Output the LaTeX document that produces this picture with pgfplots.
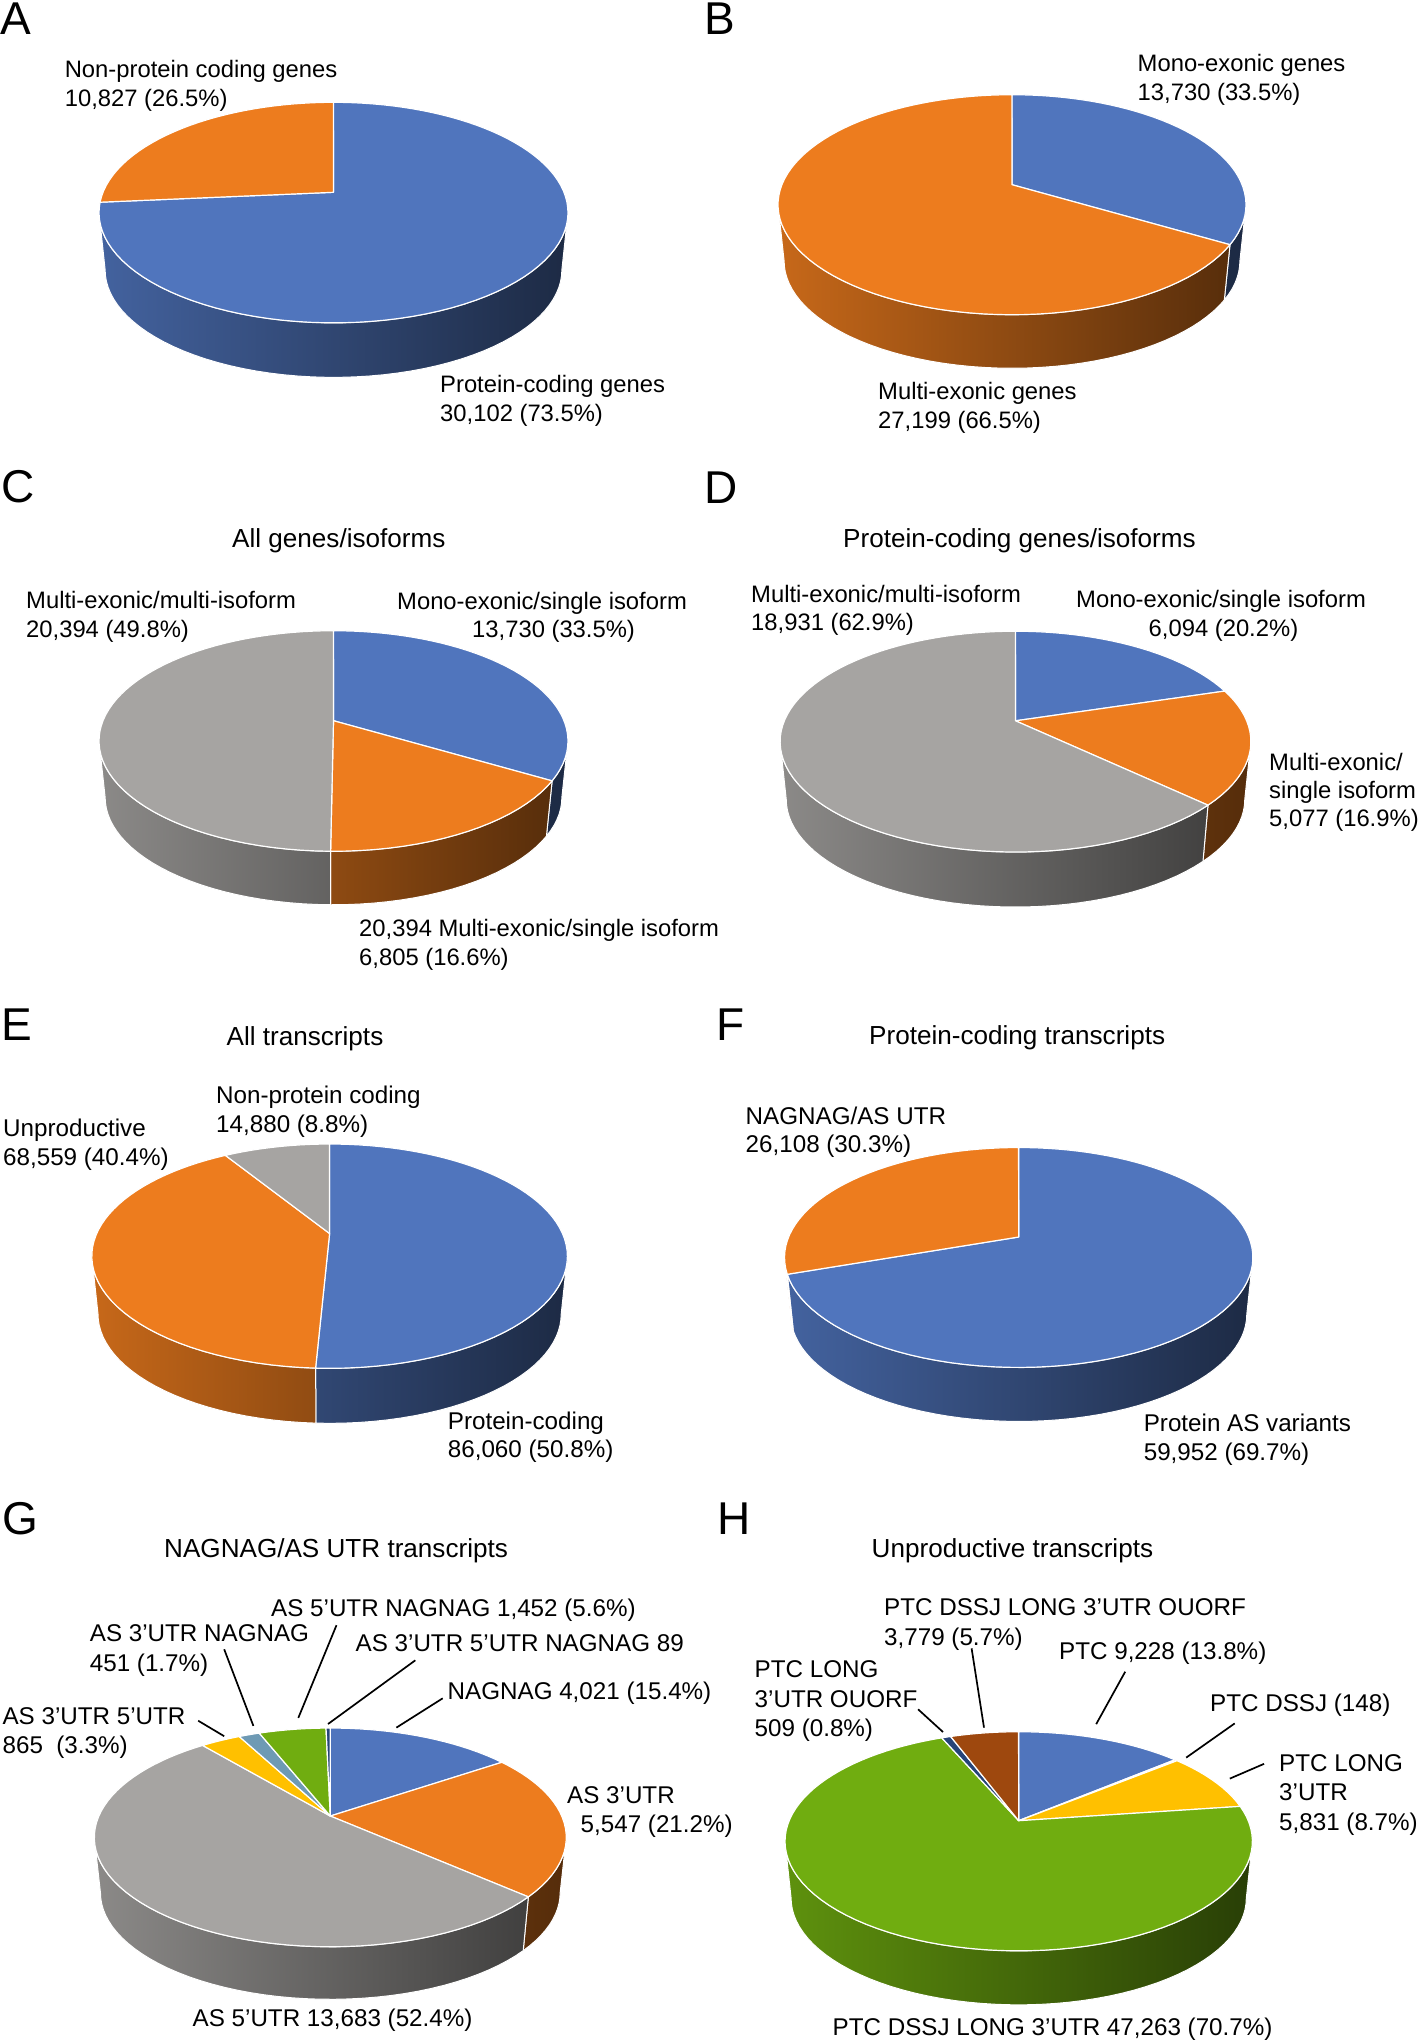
\documentclass[border=0pt]{standalone}
\usepackage{fontspec}
\setmainfont{Liberation Sans}
\usepackage{pgfplots}
\usepackage{pgfplotstable}
\pgfplotsset{compat=1.18}
\definecolor{pblue}{HTML}{5075BD}
\definecolor{porange}{HTML}{ED7C1E}
\definecolor{pgrey}{HTML}{A6A4A2}
\definecolor{pyellow}{HTML}{FFC000}
\definecolor{pteal}{HTML}{6E9AB4}
\definecolor{pgreen}{HTML}{70AD10}
\definecolor{pnavy}{HTML}{264478}
\definecolor{pbrown}{HTML}{9E480E}

\pgfplotstableread{
v c
30102 pblue
10827 porange
}\tblA
\pgfplotstableread{
v c
13730 pblue
27199 porange
}\tblB
\pgfplotstableread{
v c
13730 pblue
6805 porange
20394 pgrey
}\tblC
\pgfplotstableread{
v c
6094 pblue
5077 porange
18931 pgrey
}\tblD
\pgfplotstableread{
v c
86060 pblue
68559 porange
14880 pgrey
}\tblE
\pgfplotstableread{
v c
59952 pblue
26108 porange
}\tblF
\pgfplotstableread{
v c
4021 pblue
5547 porange
13683 pgrey
865 pyellow
451 pteal
1452 pgreen
89 pnavy
}\tblG
\pgfplotstableread{
v c
9228 pblue
148 porange
5831 pyellow
47263 pgreen
509 pnavy
3779 pbrown
}\tblH

\newcount\arccnt
% arc of the projected circle, from angle #1 to #2; #3=0 top rim, 1 lower rim
\newcommand\AppendArc[3]{%
  \pgfmathtruncatemacro\Nseg{max(1,ceil(abs(#2-(#1))/3))}%
  \arccnt=0
  \loop
    \pgfmathsetmacro\tval{#1+(#2-(#1))*(\the\arccnt/\Nseg)}%
    \pgfmathsetmacro\pieD{1+\pieK*sin(\tval)}%
    \pgfmathsetmacro\XX{\pieA*cos(\tval)/\pieD}%
    \pgfmathsetmacro\YY{\pieB*sin(\tval)/\pieD}%
    \ifnum#3=0
      \pgfmathsetmacro\ptx{\pcx+\XX}%
      \pgfmathsetmacro\pty{\pcy-\YY}%
    \else
      \pgfmathsetmacro\ptx{\pcx+0.974*\XX}%
      \pgfmathsetmacro\pty{\pcyb-0.974*\YY}%
    \fi
    \xdef\coordlist{\coordlist (\ptx,\pty)}%
    \advance\arccnt by 1
  \ifnum\arccnt<\numexpr\Nseg+1\relax
  \repeat
}
% #1 table, #2 cx, #3 cy (apex), #4 up, #5 down, #6 rx, #7 depth
\newcommand\DrawPie[7]{%
  \def\pcx{#2}\def\pcy{#3}\def\prx{#6}%
  \pgfmathsetmacro\pieB{2/(1/#4+1/#5)}%
  \pgfmathsetmacro\pieK{\pieB/#4-1}%
  \pgfmathsetmacro\pieA{#6*sqrt(1-\pieK*\pieK)}%
  \pgfmathsetmacro\pcyb{#3+#5+#7-0.974*#5}%
  \pgfmathsetmacro\tvis{asin(\pieK)}%
  \pgfmathsetmacro\visL{-180+\tvis}%
  \pgfmathsetmacro\visR{-\tvis}%
  \pgfplotstablegetrowsof{#1}%
  \pgfmathtruncatemacro\lastrow{\pgfplotsretval-1}%
  \gdef\pieTotal{0}%
  \pgfplotsforeachungrouped \r in {0,...,\lastrow}{%
    \pgfplotstablegetelem{\r}{v}\of{#1}%
    \xdef\pieTotal{\the\numexpr\pieTotal+\pgfplotsretval\relax}%
  }%
  % sides
  \gdef\pieCum{0}%
  \pgfplotsforeachungrouped \r in {0,...,\lastrow}{%
    \pgfplotstablegetelem{\r}{c}\of{#1}\edef\col{\pgfplotsretval}%
    \pgfplotstablegetelem{\r}{v}\of{#1}%
    \pgfmathsetmacro\angS{90-0.036*\the\numexpr\pieCum*10000/\pieTotal\relax}%
    \xdef\pieCum{\the\numexpr\pieCum+\pgfplotsretval\relax}%
    \pgfmathsetmacro\angE{90-0.036*\the\numexpr\pieCum*10000/\pieTotal\relax}%
    \pgfmathsetmacro\lo{max(\angE,\visL)}%
    \pgfmathsetmacro\hi{min(\angS,\visR)}%
    \pgfmathtruncatemacro\vis{\hi>\lo?1:0}%
    \ifnum\vis=1
      \gdef\coordlist{}%
      \AppendArc{\lo}{\hi}{0}%
      \AppendArc{\hi}{\lo}{1}%
      \pgfmathtruncatemacro\pL{85-49*((\pieA*cos(\lo)/(1+\pieK*sin(\lo))+\prx)/(2*\prx))}%
      \pgfmathtruncatemacro\pR{85-49*((\pieA*cos(\hi)/(1+\pieK*sin(\hi))+\prx)/(2*\prx))}%
      \edef\temp{\noexpand\addplot[forget plot,no markers,draw=white,line width=1pt,
        left color=\col!\pL!black,right color=\col!\pR!black] coordinates {\coordlist} -- cycle;}%
      \temp
    \fi
  }%
  % tops
  \gdef\pieCum{0}%
  \pgfplotsforeachungrouped \r in {0,...,\lastrow}{%
    \pgfplotstablegetelem{\r}{c}\of{#1}\edef\col{\pgfplotsretval}%
    \pgfplotstablegetelem{\r}{v}\of{#1}%
    \pgfmathsetmacro\angS{90-0.036*\the\numexpr\pieCum*10000/\pieTotal\relax}%
    \xdef\pieCum{\the\numexpr\pieCum+\pgfplotsretval\relax}%
    \pgfmathsetmacro\angE{90-0.036*\the\numexpr\pieCum*10000/\pieTotal\relax}%
    \xdef\coordlist{(\pcx,\pcy)}%
    \AppendArc{\angS}{\angE}{0}%
    \edef\temp{\noexpand\addplot[forget plot,no markers,draw=white,line width=1.2pt,line join=round,
      fill=\col] coordinates {\coordlist} -- cycle;}%
    \temp
  }%
}
\newcommand\T[3]{\node[anchor=base west,inner sep=0pt,font=\fontsize{23.8}{28}\selectfont] at (axis cs:#1,#2) {#3};}
\newcommand\Tb[3]{\node[anchor=base west,inner sep=0pt,font=\fontsize{24.2}{28}\selectfont] at (axis cs:#1,#2) {#3};}
\newcommand\Tt[3]{\node[anchor=base west,inner sep=0pt,font=\fontsize{26.1}{30}\selectfont] at (axis cs:#1,#2) {#3};}
\newcommand\Let[3]{\node[anchor=base west,inner sep=0pt,font=\fontsize{46}{50}\selectfont] at (axis cs:#1,#2) {#3};}
\newcommand\Lead[4]{\draw[black,line width=1.7pt] (axis cs:#1,#2) -- (axis cs:#3,#4);}

\begin{document}
\begin{tikzpicture}
\path[use as bounding box] (0,0) rectangle (1418pt,2040pt);
\begin{axis}[
  at={(0,0)},anchor=south west,
  width=1418pt,height=2040pt,scale only axis,
  xmin=0,xmax=1418,ymin=0,ymax=2040,y dir=reverse,
  hide axis,clip=false]

\DrawPie{\tblA}{333.5}{192.3}{90}{130.4}{234.5}{54.5}
\DrawPie{\tblB}{1012}{184.7}{90}{130}{234}{53.5}
\DrawPie{\tblC}{333.5}{720.7}{90}{130.5}{234.5}{53.5}
\DrawPie{\tblD}{1015.5}{720.8}{89.6}{131}{235.4}{55}
\DrawPie{\tblE}{329.6}{1233.5}{89.5}{134.7}{237.8}{55}
\DrawPie{\tblF}{1018.7}{1237}{89.5}{130.3}{234.2}{54}
\DrawPie{\tblG}{330.3}{1816}{88}{130.6}{236}{52.5}
\DrawPie{\tblH}{1018.7}{1820.7}{89}{130}{233.7}{54}

\Let{0}{34}{A}
\Let{704}{34}{B}
\Let{1}{502}{C}
\Let{704}{503}{D}
\Let{1}{1040.7}{E}
\Let{716}{1040.8}{F}
\Let{2}{1534}{G}
\Let{717}{1534}{H}

% A
\T{64.6}{77.3}{Non-protein coding genes}
\T{64.6}{106}{10,827 (26.5\%)}
\T{440}{392.2}{Protein-coding genes}
\T{440}{421.2}{30,102 (73.5\%)}
% B
\T{1137.5}{71.5}{Mono-exonic genes}
\T{1137.5}{100.6}{13,730 (33.5\%)}
\T{878}{399.5}{Multi-exonic genes}
\T{878}{428}{27,199 (66.5\%)}
% C
\Tt{232}{547.5}{All genes/isoforms}
\T{26}{608.9}{Multi-exonic/multi-isoform}
\T{26}{637.4}{20,394 (49.8\%)}
\T{397}{609}{Mono-exonic/single isoform}
\T{472}{637.5}{13,730 (33.5\%)}
\T{359}{936.7}{20,394 Multi-exonic/single isoform}
\T{359}{965}{6,805 (16.6\%)}
% D
\Tt{843}{547}{Protein-coding genes/isoforms}
\T{751}{602}{Multi-exonic/multi-isoform}
\T{751}{630.5}{18,931 (62.9\%)}
\T{1076}{607.6}{Mono-exonic/single isoform}
\T{1148.5}{636.5}{6,094 (20.2\%)}
\T{1269}{770}{Multi-exonic/}
\T{1269}{798.5}{single isoform}
\T{1269}{826.5}{5,077 (16.9\%)}
% E
\Tt{226.5}{1045}{All transcripts}
\Tb{216}{1103}{Non-protein coding}
\Tb{216}{1132}{14,880 (8.8\%)}
\Tb{3}{1136.7}{Unproductive}
\Tb{3}{1165.7}{68,559 (40.4\%)}
\Tb{447.7}{1429}{Protein-coding}
\Tb{447.7}{1457.7}{86,060 (50.8\%)}
% F
\Tt{869}{1044.7}{Protein-coding transcripts}
\Tb{745.5}{1124}{NAGNAG/AS UTR}
\Tb{745.5}{1152.6}{26,108 (30.3\%)}
\Tb{1143.6}{1431}{Protein AS variants}
\Tb{1143.6}{1460}{59,952 (69.7\%)}
% G
\Tt{164}{1557}{NAGNAG/AS UTR transcripts}
\Tb{271}{1616}{AS 5’UTR NAGNAG 1,452 (5.6\%)}
\Tb{89.7}{1641.4}{AS 3’UTR NAGNAG}
\Tb{89.7}{1671.4}{451 (1.7\%)}
\Tb{355.5}{1651.7}{AS 3’UTR 5’UTR NAGNAG 89}
\Tb{447.5}{1699}{NAGNAG 4,021 (15.4\%)}
\Tb{2.4}{1724}{AS 3’UTR 5’UTR}
\Tb{2.4}{1753.8}{865\ \ (3.3\%)}
\Tb{567}{1803.4}{AS 3’UTR}
\Tb{580.5}{1832}{5,547 (21.2\%)}
\Tb{192.5}{2026.6}{AS 5’UTR 13,683 (52.4\%)}
\Lead{224.2}{1736.2}{198.2}{1720.7}
\Lead{253.4}{1725.9}{224.2}{1649.3}
\Lead{298.3}{1717.9}{336.5}{1625.2}
\Lead{328}{1724}{415.3}{1660.3}
\Lead{396.4}{1727.6}{442.7}{1698.3}
% H
\Tt{871.5}{1557}{Unproductive transcripts}
\Tb{884}{1615.5}{PTC DSSJ LONG 3’UTR OUORF}
\Tb{884}{1645.5}{3,779 (5.7\%)}
\Tb{1059}{1659.7}{PTC 9,228 (13.8\%)}
\Tb{754.5}{1677.6}{PTC LONG}
\Tb{754.5}{1707}{3’UTR OUORF}
\Tb{754.5}{1736.6}{509 (0.8\%)}
\Tb{1210}{1711.4}{PTC DSSJ (148)}
\Tb{1279}{1771}{PTC LONG}
\Tb{1279}{1800.7}{3’UTR}
\Tb{1279}{1830}{5,831 (8.7\%)}
\Tb{832.5}{2035}{PTC DSSJ LONG 3’UTR 47,263 (70.7\%)}
\Lead{1096.2}{1724.1}{1125.2}{1671.7}
\Lead{1186.2}{1757.6}{1234.7}{1723.4}
\Lead{1229.8}{1778.6}{1264.1}{1763.8}
\Lead{984}{1727.6}{971.6}{1648.3}
\Lead{943}{1732}{918.1}{1709.3}
\end{axis}
\end{tikzpicture}
\end{document}
